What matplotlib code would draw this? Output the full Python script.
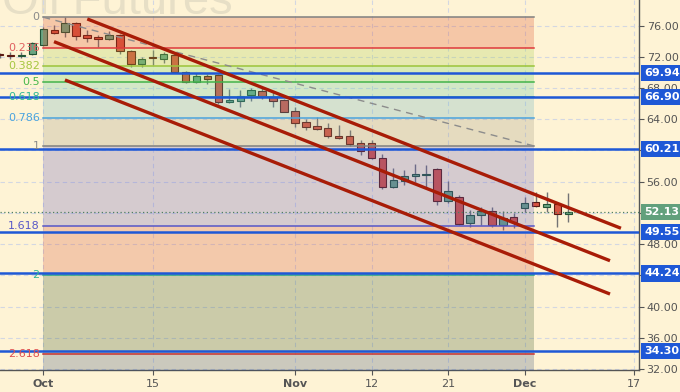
import matplotlib
matplotlib.use("Agg")
import matplotlib.pyplot as plt
import matplotlib.transforms as mtransforms

# ---------------- data ----------------
day_index = [-4, -3, -2, -1, 0, 1, 2, 3, 4, 5, 6, 7, 8, 9, 10, 11, 12, 13, 14, 15,
             16, 17, 18, 19, 20, 21, 22, 23, 24, 25, 26, 27, 28, 29, 30, 31, 32, 33,
             34, 35, 36, 37, 38, 39, 40, 41, 42, 43, 44, 45, 46, 47, 48]
opens = [72.25, 72.2, 72.15, 72.33, 73.53, 75.45, 75.2, 76.3, 74.8, 74.6, 74.25, 74.8,
         72.8, 71.05, 71.9, 71.73, 72.24, 70.1, 68.78, 69.6, 69.64, 66.26, 66.4, 67.08,
         67.63, 66.9, 66.47, 65.06, 63.65, 63.14, 62.85, 61.86, 61.86, 60.92, 60.92,
         59.0, 55.36, 56.13, 56.73, 56.82, 57.59, 53.53, 54.0, 50.74, 51.73, 52.24,
         50.45, 51.43, 52.59, 53.36, 52.72, 53.1, 51.9]
highs = [72.5, 72.67, 72.6, 73.9, 75.8, 76.1, 77.08, 76.5, 75.4, 74.8, 75.35, 74.9,
         72.9, 72.0, 72.9, 72.67, 72.5, 70.2, 69.97, 69.8, 69.8, 67.9, 67.76, 67.97,
         67.97, 67.5, 66.6, 65.6, 64.0, 64.3, 63.56, 63.27, 62.63, 61.35, 61.4,
         59.55, 57.72, 57.5, 58.27, 58.14, 57.7, 56.13, 54.3, 52.37, 52.8, 52.8,
         52.3, 51.95, 54.08, 54.7, 54.7, 53.3, 54.5]
lows = [71.9, 71.7, 71.8, 72.2, 73.4, 74.9, 74.6, 74.2, 73.95, 73.3, 74.1, 72.4,
        70.75, 70.75, 71.0, 71.2, 69.9, 68.6, 68.6, 68.5, 65.96, 66.1, 65.6, 66.4,
        66.56, 65.6, 64.9, 63.05, 62.63, 62.6, 61.56, 61.5, 60.58, 59.4, 58.9,
        55.0, 55.2, 55.58, 56.0, 55.36, 53.0, 53.3, 50.4, 50.23, 50.45, 50.2,
        49.76, 50.0, 52.16, 52.8, 52.16, 50.23, 50.87]
closes = [72.2, 72.15, 72.2, 73.74, 75.58, 75.1, 76.3, 74.7, 74.4, 74.25, 74.8, 72.7,
          71.05, 71.7, 71.8, 72.33, 70.1, 68.78, 69.55, 69.2, 66.2, 66.47, 67.0, 67.76,
          67.0, 66.4, 64.97, 63.56, 62.97, 62.7, 61.86, 61.64, 60.83, 59.97, 59.0,
          55.36, 56.22, 56.73, 57.03, 56.95, 53.53, 54.8, 50.54, 51.77, 52.3, 50.45,
          51.3, 50.87, 53.23, 52.85, 53.14, 51.86, 52.13]

x_tick_pos = [0, 10, 23, 30, 37, 44, 54]
x_tick_labels = ["Oct", "15", "Nov", "12", "21", "Dec", "17"]
x_tick_bold = [True, False, True, False, False, True, False]

y_tick_vals = [32, 36, 40, 44, 48, 52, 56, 60, 64, 68, 72, 76]
y_tick_hidden = [44, 52, 60]   # covered by the price tags in the original

fib_start_x, fib_end_x = 0, 44.85
fib_price_0, fib_price_1 = 77.08, 60.58
fib_levels = [0, 0.236, 0.382, 0.5, 0.618, 0.786, 1, 1.618, 2, 2.618]
fib_labels = ["0", "0.236", "0.382", "0.5", "0.618", "0.786", "1", "1.618", "2", "2.618"]

hlines = [69.94, 66.90, 60.21, 49.55, 44.24, 34.30]
last_price = 52.13

# channel lines: (x0, y0, x1, y1)
channels = [(4.02, 76.86, 52.8, 50.03),
            (0.98, 73.95, 51.8, 45.87),
            (1.98, 69.04, 51.8, 41.60)]

# ---------------- style ----------------
BG = "#fef3d5"
level_colors = ["#808080", "#e0393c", "#9cc43a", "#43b34a", "#2ea888", "#4aa3de",
                "#808080", "#5656c8", "#2aa98a", "#c83232"]
label_colors = ["#8a8a8a", "#e06060", "#a6c640", "#46b84a", "#2fb894", "#4aa3de",
                "#8a8a8a", "#5858c8", "#2fb894", "#e05050"]
band_colors = ["#de4721", "#a6cf49", "#66d761", "#56c7a1", "#5eafc1", "#9e9781",
               "#5e57c1", "#d64f31", "#365729", "#364f79"]
BAND_ALPHA = 0.25
UP, DOWN = "#6ba583", "#d75442"
UP_EDGE, DOWN_EDGE = "#225437", "#5b1a13"
WICK = "#737375"
BLUE = "#1e58d6"
AXC = "#555555"

plt.rcParams["font.family"] = ["DejaVu Sans"]

fig = plt.figure(figsize=(6.8, 3.92), dpi=100, facecolor=BG)
ax = fig.add_axes([0, 22 / 392, 639 / 680, 370 / 392])
ax.set_facecolor(BG)

xmin, xmax = -3.958, 54.45
ymin, ymax = 31.86, 79.29
ax.set_xlim(xmin, xmax)
ax.set_ylim(ymin, ymax)

# watermark (top is cut by the chart edge, as in the original)
ax.text(17.3, 77.5, "Oil Futures", fontsize=34, color="#e7dfc6",
        ha="right", va="baseline", zorder=0.5, family="Liberation Sans")

# grid
ax.set_xticks(x_tick_pos)
ax.set_yticks(y_tick_vals)
ax.grid(True, color="#d3d7e2", linestyle=(0, (4, 3)), linewidth=0.8, zorder=1)
ax.set_axisbelow(True)

# candles
for xi, o, h, l, c in zip(day_index, opens, highs, lows, closes):
    up = c >= o
    ax.vlines(xi, l, h, color=WICK, linewidth=1.0, zorder=2)
    bot = min(o, c)
    hgt = max(abs(c - o), 0.12)
    ax.bar(xi, hgt, bottom=bot, width=0.68, color=UP if up else DOWN,
           edgecolor=UP_EDGE if up else DOWN_EDGE, linewidth=0.8, zorder=2.2)

# fib bands and levels
fib_prices = [fib_price_0 - r * (fib_price_0 - fib_price_1) for r in fib_levels]
band_edges = fib_prices + [fib_price_0 - 3.618 * (fib_price_0 - fib_price_1)]
for k in range(len(band_colors)):
    ax.fill_between([fib_start_x, fib_end_x], band_edges[k], band_edges[k + 1],
                    color=band_colors[k], alpha=BAND_ALPHA, linewidth=0, zorder=3)
for p, col, lab, lcol in zip(fib_prices, level_colors, fib_labels, label_colors):
    ax.plot([fib_start_x, fib_end_x], [p, p], color=col, linewidth=1.1, zorder=3.5)
    ax.text(-0.33, p, lab, color=lcol, fontsize=8, ha="right", va="center", zorder=6)

# fib trend line
ax.plot([fib_start_x, fib_end_x], [fib_price_0, fib_price_1], color="#8c8c8c",
        linewidth=1.0, linestyle=(0, (5, 4)), zorder=3.6)

# last price dotted
ax.axhline(last_price, color="#4f7f62", linewidth=0.9, linestyle=(0, (1, 2)), zorder=3.7)

# blue horizontals
for v in hlines:
    ax.axhline(v, color=BLUE, linewidth=1.8, zorder=4)

# channel lines
for x0, y0, x1, y1 in channels:
    ax.plot([x0, x1], [y0, y1], color="#a81c07", linewidth=2.4,
            solid_capstyle="butt", zorder=5)

# axes styling
for s in ["left", "top"]:
    ax.spines[s].set_visible(False)
for s in ["right", "bottom"]:
    ax.spines[s].set_color(AXC)
    ax.spines[s].set_linewidth(1.0)
ax.yaxis.tick_right()
ax.tick_params(axis="y", which="both", length=3.5, width=0.8, color=AXC,
               labelcolor=AXC, labelsize=8, pad=2, left=False)
ax.set_yticklabels(["" if v in y_tick_hidden else f"{v:.2f}" for v in y_tick_vals])
ax.tick_params(axis="x", length=3.5, width=0.8, color=AXC, labelcolor=AXC,
               labelsize=8, pad=3)
ax.set_xticklabels(x_tick_labels)
for lbl, b in zip(ax.get_xticklabels(), x_tick_bold):
    if b:
        lbl.set_fontweight("bold")

# price tags on right
trans = mtransforms.blended_transform_factory(ax.transAxes, ax.transData)
for v in hlines:
    ax.text(1.008, v, f"{v:.2f}", transform=trans, fontsize=8, fontweight="bold",
            color="white", ha="left", va="center", clip_on=False, zorder=10,
            bbox=dict(boxstyle="square,pad=0.28", fc=BLUE, ec="none"))
ax.text(1.008, last_price, f"{last_price:.2f}", transform=trans, fontsize=8,
        fontweight="bold", color="white", ha="left", va="center", clip_on=False,
        zorder=10, bbox=dict(boxstyle="square,pad=0.28", fc="#62a07c", ec="none"))

fig.savefig("out.png", dpi=100, facecolor=BG)
